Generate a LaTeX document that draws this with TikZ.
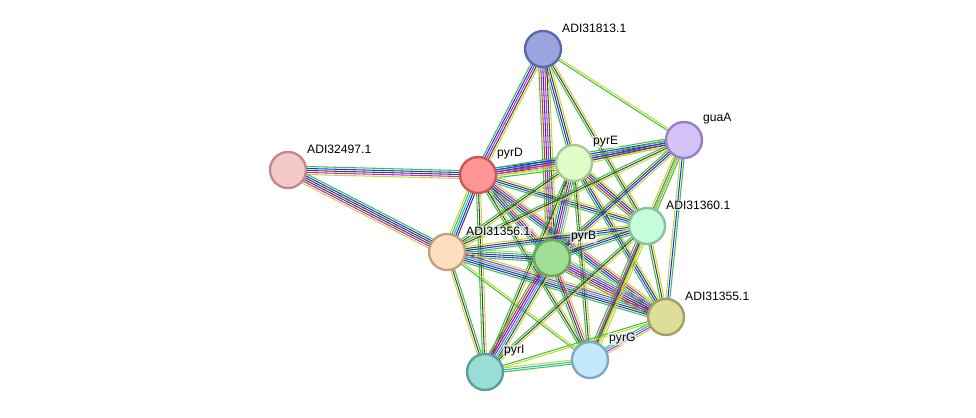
\documentclass[tikz,border=0pt]{standalone}
\usepackage{fontspec}
\setmainfont{Liberation Sans}
\usetikzlibrary{calc, positioning}

% evidence colours
\definecolor{cneigh}{HTML}{3DC23D}
\definecolor{cfus}{HTML}{EE2222}
\definecolor{ccooc}{HTML}{2233EE}
\definecolor{ccoex}{HTML}{444444}
\definecolor{cexpt}{HTML}{CC22CC}
\definecolor{cdbase}{HTML}{22B4D8}
\definecolor{ctmine}{HTML}{C4D83A}

\pgfdeclarelayer{edges}
\pgfsetlayers{edges,main}

\tikzset{
  lk/.style={line width=0.6pt},
  neigh/.style={lk, draw=cneigh},
  fusion/.style={lk, draw=cfus},
  cooc/.style={lk, draw=ccooc},
  coex/.style={lk, draw=ccoex},
  expt/.style={lk, draw=cexpt},
  dbase/.style={lk, draw=cdbase},
  tmine/.style={lk, draw=ctmine},
  prot/.style={circle, minimum size=0.72cm, inner sep=0pt, line width=1.35pt},
  lbl/.style={anchor=west, inner sep=0.5pt, fill=white, fill opacity=0.6, text opacity=1,
    font=\fontsize{6.9}{8}\selectfont}
}

% bundle of parallel evidence lines between two proteins
\newcommand{\strlink}[3]{%
  \begin{pgfonlayer}{edges}
  \foreach \c [count=\n] in {#3} {\xdef\nlines{\n}}
  \foreach \c [count=\i] in {#3} {
    \pgfmathsetmacro\off{(\i-(\nlines+1)/2)*0.04}
    \draw[\c] ($(#1)!\off cm!90:(#2)$) -- ($(#2)!\off cm!-90:(#1)$);
  }
  \end{pgfonlayer}%
}

\begin{document}
\begin{tikzpicture}[x=0.02cm, y=-0.02cm]
\useasboundingbox (0,0) rectangle (976,418);

% proteins
\node[prot, fill={rgb,255:red,154;green,164;blue,222}, draw={rgb,255:red,90;green,103;blue,168}] (a13) at (543,49) {};
\node[prot, fill={rgb,255:red,212;green,194;blue,248}, draw={rgb,255:red,152;green,128;blue,200}] (guaA) at (684,140) {};
\node[prot, fill={rgb,255:red,246;green,201;blue,201}, draw={rgb,255:red,192;green,138;blue,138}] (a97) at (288,170) {};
\node[prot, fill={rgb,255:red,255;green,148;blue,148}, draw={rgb,255:red,200;green,88;blue,88}] (pyrD) at (478,175) {};
\node[prot, fill={rgb,255:red,224;green,255;blue,200}, draw={rgb,255:red,168;green,200;blue,144}] (pyrE) at (574,163) {};
\node[prot, fill={rgb,255:red,196;green,252;blue,220}, draw={rgb,255:red,136;green,192;blue,160}] (a60) at (647,226) {};
\node[prot, fill={rgb,255:red,255;green,223;blue,192}, draw={rgb,255:red,192;green,160;blue,128}] (a56) at (447,252) {};
\node[prot, fill={rgb,255:red,160;green,222;blue,150}, draw={rgb,255:red,104;green,168;blue,96}] (pyrB) at (552,258) {};
\node[prot, fill={rgb,255:red,222;green,222;blue,154}, draw={rgb,255:red,160;green,160;blue,96}] (a55) at (666,317) {};
\node[prot, fill={rgb,255:red,152;green,222;blue,214}, draw={rgb,255:red,88;green,160;blue,152}] (pyrI) at (485,372) {};
\node[prot, fill={rgb,255:red,196;green,232;blue,252}, draw={rgb,255:red,128;green,168;blue,192}] (pyrG) at (590,360) {};

% names
\node[lbl] (a13t) at ([shift={(18,-21)}]a13.center) {ADI31813.1};
\node[lbl] (guaAt) at ([shift={(18,-21)}]guaA.center) {guaA};
\node[lbl] (a97t) at ([shift={(18,-21)}]a97.center) {ADI32497.1};
\node[lbl] (pyrDt) at ([shift={(18,-21)}]pyrD.center) {pyrD};
\node[lbl] (pyrEt) at ([shift={(18,-21)}]pyrE.center) {pyrE};
\node[lbl] (a60t) at ([shift={(18,-21)}]a60.center) {ADI31360.1};
\node[lbl] (a56t) at ([shift={(18,-21)}]a56.center) {ADI31356.1};
\node[lbl] (pyrBt) at ([shift={(18,-21)}]pyrB.center) {pyrB};
\node[lbl] (a55t) at ([shift={(18,-21)}]a55.center) {ADI31355.1};
\node[lbl] (pyrIt) at ([shift={(18,-21)}]pyrI.center) {pyrI};
\node[lbl] (pyrGt) at ([shift={(18,-21)}]pyrG.center) {pyrG};

% links
\strlink{a97}{pyrD}{tmine,expt,coex,cooc,neigh}
\strlink{a97}{a56}{tmine,expt,coex,coex,cooc,neigh}
\strlink{a13}{pyrD}{neigh,cooc,expt,coex,tmine}
\strlink{a13}{pyrE}{neigh,cooc,coex,tmine}
\strlink{a13}{pyrB}{neigh,fusion,cooc,expt,coex,tmine}
\strlink{a13}{guaA}{neigh,tmine}
\strlink{a13}{a60}{neigh,coex,tmine}
\strlink{pyrD}{pyrE}{neigh,tmine,coex,expt,dbase,cooc}
\strlink{pyrD}{guaA}{tmine,expt,coex,cooc,neigh}
\strlink{pyrE}{guaA}{tmine,coex,cooc,neigh}
\strlink{pyrD}{a56}{tmine,neigh,dbase,cooc,coex}
\strlink{pyrD}{pyrB}{neigh,cooc,coex,expt,tmine}
\strlink{pyrD}{a60}{neigh,cooc,coex,tmine}
\strlink{pyrD}{a55}{neigh,cooc,coex,expt,tmine}
\strlink{pyrD}{pyrI}{neigh,coex,tmine}
\strlink{pyrD}{pyrG}{neigh,coex,tmine}
\strlink{pyrE}{a56}{neigh,coex,tmine}
\strlink{pyrE}{pyrB}{neigh,cooc,coex,expt,dbase,tmine}
\strlink{pyrE}{a60}{neigh,fusion,cooc,coex,tmine}
\strlink{pyrE}{a55}{neigh,cooc,coex,tmine}
\strlink{pyrE}{pyrI}{neigh,coex,tmine}
\strlink{pyrE}{pyrG}{neigh,coex,tmine}
\strlink{guaA}{a60}{tmine,expt,coex,neigh}
\strlink{guaA}{a55}{tmine,cooc,neigh}
\strlink{guaA}{pyrB}{neigh,coex,cooc,tmine}
\strlink{guaA}{a56}{neigh,coex,tmine}
\strlink{guaA}{pyrG}{neigh,tmine}
\strlink{a56}{pyrB}{neigh,cooc,coex,dbase,tmine}
\strlink{a56}{a60}{neigh,cooc,coex,tmine}
\strlink{a56}{a55}{neigh,cooc,coex,dbase,expt,tmine}
\strlink{a56}{pyrI}{tmine,coex,neigh}
\strlink{a56}{pyrG}{neigh,tmine}
\strlink{pyrB}{a60}{neigh,cooc,coex,tmine}
\strlink{pyrB}{a55}{neigh,fusion,cooc,coex,expt,dbase,tmine}
\strlink{pyrB}{pyrI}{neigh,fusion,cooc,expt,dbase,coex,tmine}
\strlink{pyrB}{pyrG}{neigh,coex,expt,tmine}
\strlink{a60}{a55}{neigh,coex,tmine}
\strlink{a60}{pyrG}{neigh,expt,coex,tmine,tmine}
\strlink{a60}{pyrI}{neigh,coex,tmine}
\strlink{a55}{pyrG}{neigh,dbase,expt,tmine}
\strlink{a55}{pyrI}{neigh,tmine}
\strlink{pyrI}{pyrG}{neigh,dbase,tmine}
\end{tikzpicture}
\end{document}
